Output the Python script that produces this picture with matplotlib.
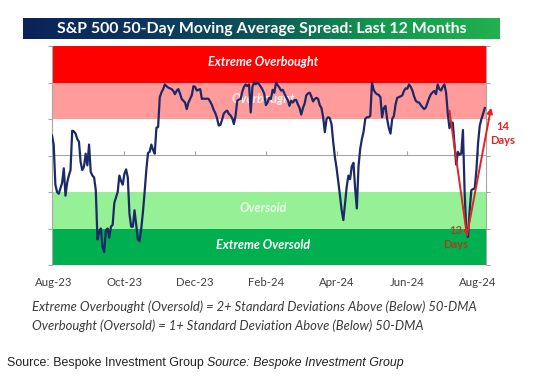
import numpy as np
import matplotlib
matplotlib.use("Agg")
import matplotlib.pyplot as plt
from matplotlib.colors import LinearSegmentedColormap

# trading-day index and 50-DMA spread (in standard deviations)
days = np.arange(0, 258)
spread = [
    0.55, 0.3, -0.8, -1.0, -1.05, -0.9, -0.75, -0.35, -1.1, -0.75,
    -0.55, -0.4, 0.68, 0.66, 0.6, 0.45, 0.38, -0.18, -0.4, -0.3,
    0.05, -0.27, 0.3, -0.45, -0.55, -0.6, -0.95, -2.3, -2.1, -2.0,
    -2.5, -2.65, -2.05, -2.0, -2.25, -1.95, -1.9, -1.3, -1.15, -1.0,
    -0.55, -0.7, -0.8, -0.5, -0.38, -0.6, -1.6, -1.95, -1.95, -1.5,
    -1.9, -2.3, -2.35, -2.0, -1.55, -1.0, -0.4, 0.07, 0.1, 0.3,
    0.15, 0.05, 0.76, 0.78, 1.6, 1.73, 1.82, 1.95, 1.9, 1.86,
    1.84, 1.82, 1.77, 1.68, 1.77, 1.82, 1.7, 1.55, 1.5, 1.45,
    1.27, 1.45, 1.55, 1.65, 1.9, 1.88, 1.78, 1.8, 1.82, 1.55,
    1.56, 1.55, 1.56, 1.55, 1.47, 1.38, 1.25, 1.16, 1.02, 0.82,
    0.84, 0.98, 1.15, 1.2, 1.23, 1.14, 1.1, 1.02, 0.86, 1.09,
    1.5, 1.53, 1.55, 1.75, 1.88, 1.95, 1.9, 1.95, 1.18, 1.88,
    2.0, 1.95, 2.0, 1.95, 1.88, 1.8, 1.7, 1.38, 1.45, 1.58,
    1.55, 1.8, 1.72, 2.0, 1.93, 1.86, 1.78, 1.8, 1.7, 1.6,
    1.52, 1.36, 1.5, 1.45, 1.52, 1.52, 1.4, 1.3, 1.12, 1.3,
    1.42, 1.65, 1.7, 1.72, 1.62, 1.48, 1.55, 1.58, 1.55, 1.38,
    1.3, 1.05, 0.64, 1.0, 1.05, 1.02, 0.85, 0.36, -0.05, -0.35,
    -0.72, -1.1, -1.5, -1.77, -1.3, -0.85, -0.55, -0.65, -0.3, -0.2,
    -0.9, -1.45, -0.3, 0.18, 0.45, 0.65, 1.0, 1.05, 1.05, 1.09,
    2.0, 1.8, 1.72, 1.68, 1.66, 1.6, 1.05, 1.3, 1.36, 1.0,
    0.75, 0.6, 1.0, 1.08, 1.4, 1.58, 1.6, 1.62, 1.65, 1.77,
    1.84, 1.83, 1.95, 1.88, 1.78, 1.62, 1.5, 1.46, 1.45, 1.38,
    1.32, 1.27, 1.32, 1.45, 1.58, 1.68, 1.73, 1.77, 1.68, 1.95,
    1.82, 1.78, 1.88, 1.95, 1.72, 1.15, 0.75, 0.9, 0.9, 0.3,
    -0.25, 0.1, 0.02, 0.05, 0.7, -1.0, -2.05, -2.23, -1.5, -0.95,
    -0.92, -0.9, -0.4, 0.35, 0.82, 1.0, 1.15, 1.3,
]

tick_pos = [1, 43, 85, 127, 169, 211, 253]
tick_labels = ["Aug-23", "Oct-23", "Dec-23", "Feb-24", "Apr-24", "Jun-24", "Aug-24"]

# zone bands (lower, upper, colour, label, label alpha)
bands = [
    (2, 3, "#ff0000", "Extreme Overbought", 1.0),
    (1, 2, "#ff9b9b", "Overbought", 0.85),
    (-1, 1, "#ffffff", None, 0),
    (-2, -1, "#96f096", "Oversold", 0.8),
    (-3, -2, "#00b050", "Extreme Oversold", 1.0),
]

# the July/Aug round trip
peak = (236, 1.23)
trough = (246.4, -2.19)
recovered = (260.7, 1.31)

W, H = 533, 380
fig = plt.figure(figsize=(W / 100, H / 100), dpi=100)
fig.patch.set_facecolor("white")

# title bar with a navy -> green gradient
tax = fig.add_axes([23 / W, 1 - 39 / H, 477 / W, 21 / H])
cmap = LinearSegmentedColormap.from_list(
    "bar", ["#0b2358", "#0c355e", "#0e5558", "#129a4e", "#22b050"])
tax.imshow(np.linspace(0, 1, 256)[None, :], aspect="auto", cmap=cmap,
           extent=[0, 1, 0, 1])
tax.set_axis_off()
tax.text(0.5, 0.47, "S&P 500 50-Day Moving Average Spread: Last 12 Months",
         color="white", fontsize=11.4, fontweight="bold", family="Lato",
         ha="center", va="center")

ax = fig.add_axes([52 / W, 1 - 265 / H, 434 / W, 219 / H])
for lo, hi, col, lab, a in bands:
    ax.axhspan(lo, hi, color=col, lw=0, zorder=0)
    if lab:
        ax.text(0.486, (lo + hi) / 2 + 0.05, lab, transform=ax.get_yaxis_transform(),
                color="white", alpha=a, fontsize=9, fontweight="bold",
                style="italic", family="Lato", ha="center", va="center", zorder=1)

ax.plot(days, spread, color="#1b2a66", lw=1.6, zorder=3)

ax.set_xlim(0, 257.7)
ax.set_ylim(-3, 3)
ax.set_yticks([-3, -2, -1, 0, 1, 2, 3])
ax.set_yticklabels([])
ax.tick_params(axis="y", which="both", left=True, right=True, length=3,
               color="#a6a6a6", direction="out")
ax.set_xticks(tick_pos)
ax.set_xticklabels(tick_labels, fontsize=8.2, color="#404040", family="Lato")
ax.tick_params(axis="x", length=0, pad=9)
for s in ["top", "bottom"]:
    ax.spines[s].set_visible(False)
for s in ["left", "right"]:
    ax.spines[s].set_color("#a6a6a6")
    ax.spines[s].set_linewidth(0.8)

# horizontal axis crossing at zero
sec = ax.secondary_xaxis(0.5)
sec.set_xticks(tick_pos)
sec.set_xticklabels([])
sec.tick_params(length=3, color="#a6a6a6", direction="out")
for sp in sec.spines.values():
    sp.set_color("#a6a6a6")
    sp.set_linewidth(0.8)
sec.set_zorder(2)

# red arrows for the selloff and the recovery
red = "#e02424"
ax.annotate("", xy=trough, xytext=peak, zorder=4,
            arrowprops=dict(arrowstyle="-|>", color=red, lw=1.4,
                            mutation_scale=6, shrinkA=0, shrinkB=0))
ax.annotate("", xy=recovered, xytext=trough, zorder=4, annotation_clip=False,
            arrowprops=dict(arrowstyle="-|>", color=red, lw=1.4,
                            mutation_scale=8, shrinkA=0, shrinkB=0))
ax.text(trough[0] - 6.5, trough[1] - 0.05, "13\nDays", color="#b8321c", alpha=0.85,
        fontsize=8, fontweight="bold", family="Lato", ha="center", va="center",
        linespacing=1.3, zorder=5)
ax.text(recovered[0] + 7, 0.6, "14\nDays", color=red, fontsize=8,
        fontweight="bold", family="Lato", ha="center", va="center",
        linespacing=1.3, clip_on=False)

foot_style = dict(fontsize=9.4, style="italic", color="#3a3a3a", family="Lato")
fig.text(32 / W, 1 - 307 / H,
         "Extreme Overbought (Oversold) = 2+ Standard Deviations Above (Below) 50-DMA",
         va="center", **foot_style)
fig.text(32 / W, 1 - 326 / H,
         "Overbought (Oversold) = 1+ Standard Deviation Above (Below) 50-DMA",
         va="center", **foot_style)

src = fig.text(7 / W, 1 - 363 / H, "Source: Bespoke Investment Group ",
               fontsize=8.9, family="Liberation Sans", color="#222222", va="center")
fig.canvas.draw()
bb = src.get_window_extent()
fig.text(bb.x1 / W, 1 - 363 / H, "Source: Bespoke Investment Group",
         fontsize=8.9, family="Liberation Sans", style="italic", color="#222222",
         va="center")

fig.savefig("out.png", dpi=100)
